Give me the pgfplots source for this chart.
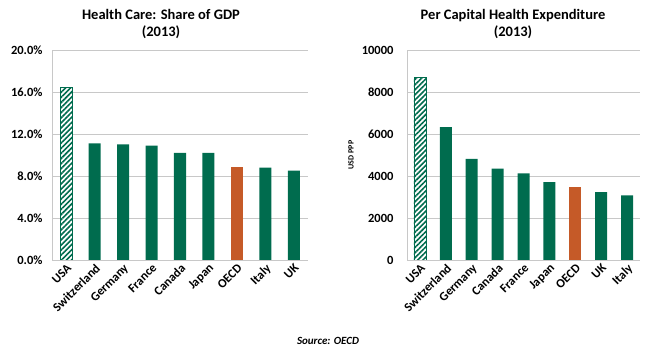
\documentclass[border=0pt]{standalone}
\usepackage{pgfplots}
\pgfplotsset{compat=1.18}
\usepackage{fontspec}
\setmainfont{Carlito}
\usetikzlibrary{patterns.meta}
\definecolor{dgreen}{RGB}{0,108,78}
\definecolor{dorange}{RGB}{197,90,40}
\definecolor{gridc}{RGB}{200,200,200}
% Share of GDP (%)
\pgfplotstableread{
x val
0 16.4
}\gdpusa
\pgfplotstableread{
x val
1 11.1
2 11.0
3 10.9
4 10.2
5 10.2
7 8.8
8 8.5
}\gdpgreen
\pgfplotstableread{
x val
6 8.9
}\gdpoecd
% Per capita (USD PPP)
\pgfplotstableread{
x val
0 8713
}\pcusa
\pgfplotstableread{
x val
1 6325
2 4819
3 4351
4 4124
5 3713
7 3235
8 3077
}\pcgreen
\pgfplotstableread{
x val
6 3453
}\pcoecd
\pgfplotsset{
  mystyle/.style={
    scale only axis,
    height=210pt,
    ymin=0,
    xmin=-0.5, xmax=8.5,
    xtick={0,...,8},
    axis line style={gridc},
    axis x line*=bottom,
    axis y line*=left,
    ymajorgrids,
    grid style={gridc, line width=0.8pt},
    major tick length=0pt,
    tick style={draw=none},
    ybar, bar width=12pt, bar shift=0pt,
    /pgf/number format/assume math mode=true,
    tick label style={font=\fontsize{12.5}{14}\selectfont\bfseries},
    xticklabel style={rotate=45, anchor=north east, inner sep=2pt},
  },
  usabar/.style={draw=dgreen, line width=0.8pt, fill=white, postaction={pattern={Lines[angle=45,distance=3.6pt,line width=1.6pt]}, pattern color=dgreen}},
}
\begin{document}
\begin{tikzpicture}
\path[use as bounding box] (0,0) rectangle (650pt,352pt);
\begin{axis}[mystyle, at={(52pt,92pt)}, anchor=south west, width=256pt,
  ymax=20, ytick={0,4,8,12,16,20},
  yticklabel style={xshift=-6pt},
  yticklabel={\pgfmathprintnumber[fixed,fixed zerofill,precision=1]{\tick}\%},
  xticklabels={USA,Switzerland,Germany,France,Canada,Japan,OECD,Italy,UK}]
\addplot[usabar] table[x=x,y=val] {\gdpusa};
\addplot[draw=none, fill=dgreen] table[x=x,y=val] {\gdpgreen};
\addplot[draw=none, fill=dorange] table[x=x,y=val] {\gdpoecd};
\end{axis}
\begin{axis}[mystyle, at={(407pt,92pt)}, anchor=south west, width=233pt,
  ymax=10000, ytick={0,2000,4000,6000,8000,10000}, scaled y ticks=false,
  yticklabel style={xshift=-10pt},
  yticklabel={\pgfmathprintnumber[fixed,1000 sep={}]{\tick}},
  ylabel={USD PPP}, ylabel style={font=\fontsize{8}{9}\selectfont\bfseries, at={(axis description cs:0,0.5)}, anchor=south, inner sep=0pt, yshift=53pt},
  xticklabels={USA,Switzerland,Germany,Canada,France,Japan,OECD,UK,Italy}]
\addplot[usabar] table[x=x,y=val] {\pcusa};
\addplot[draw=none, fill=dgreen] table[x=x,y=val] {\pcgreen};
\addplot[draw=none, fill=dorange] table[x=x,y=val] {\pcoecd};
\end{axis}
\node[font=\fontsize{14.5}{17}\selectfont\bfseries, align=center] at (161pt,328pt) {Health Care: Share of GDP\\(2013)};
\node[font=\fontsize{14.5}{17}\selectfont\bfseries, align=center] at (513pt,328pt) {Per Capital Health Expenditure\\(2013)};
\node[font=\fontsize{11}{13}\selectfont\bfseries\itshape] at (328pt,11pt) {Source: OECD};
\end{tikzpicture}
\end{document}
